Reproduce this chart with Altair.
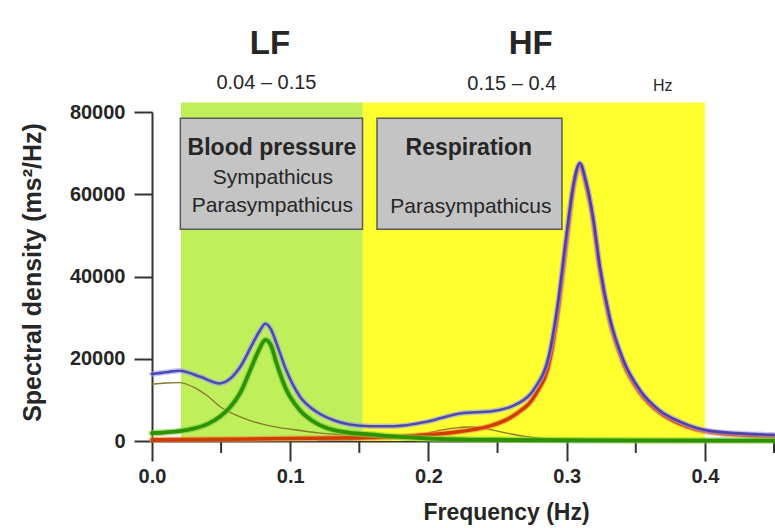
import altair as alt
import pandas as pd

# ---- frequency bands (Hz) ----
band_start = [0.021, 0.1525]
band_end = [0.1525, 0.4]
band_color = ["#c0ef5c", "#ffff30"]
band_top = 82300

# ---- spectral components (ms²/Hz) ----
vlf_f = [0.0, 0.01, 0.02, 0.03, 0.04, 0.05, 0.06, 0.07, 0.08, 0.09, 0.10, 0.12, 0.14, 0.16, 0.18, 0.20, 0.25, 0.30, 0.45]
vlf_v = [13800, 14100, 14200, 13100, 11000, 8200, 6400, 5100, 4100, 3400, 2900, 2000, 1500, 1200, 900, 700, 400, 200, 100]

lf_f = [0.0, 0.01, 0.02, 0.03, 0.04, 0.049, 0.056, 0.064, 0.073, 0.078, 0.082, 0.086, 0.09, 0.097, 0.107,
        0.119, 0.131, 0.143, 0.158, 0.175, 0.20, 0.25, 0.30, 0.35, 0.45]
lf_v = [1900, 2100, 2400, 3000, 4100, 5900, 8000, 11800, 18800, 22600, 24600, 23300, 19000, 12600, 7500,
        4300, 2700, 2000, 1600, 1100, 600, 300, 200, 150, 100]

hf2_f = [0.12, 0.15, 0.17, 0.19, 0.20, 0.21, 0.22, 0.23, 0.24, 0.25, 0.26, 0.27, 0.28, 0.30, 0.33, 0.38]
hf2_v = [200, 400, 800, 1500, 2000, 2700, 3200, 3400, 3100, 2400, 1700, 1100, 700, 350, 150, 50]

hf_f = [0.0, 0.05, 0.10, 0.15, 0.175, 0.199, 0.223, 0.247, 0.264, 0.278, 0.288, 0.294, 0.300, 0.305, 0.3095,
        0.314, 0.319, 0.324, 0.331, 0.341, 0.353, 0.367, 0.382, 0.405, 0.45]
hf_v = [300, 400, 600, 800, 1000, 1500, 2300, 3900, 6700, 11600, 20000, 32500, 49000, 62000, 67000,
        62500, 54000, 41800, 29500, 19000, 11800, 7000, 4200, 2100, 1100]

total_f = [0.0, 0.01, 0.02, 0.035, 0.049, 0.056, 0.064, 0.073, 0.078, 0.082, 0.086, 0.09, 0.097, 0.107,
           0.119, 0.131, 0.143, 0.158, 0.175, 0.199, 0.223, 0.247, 0.264, 0.276, 0.288, 0.294, 0.300,
           0.305, 0.3095, 0.314, 0.319, 0.324, 0.331, 0.341, 0.353, 0.367, 0.382, 0.405, 0.45]
total_v = [16300, 16700, 17100, 15600, 14000, 15000, 18100, 23800, 26800, 28500, 27200, 23800, 17300, 10800,
           7100, 5100, 4000, 3600, 3600, 4700, 6700, 7300, 9000, 12400, 22100, 34300, 50500,
           62500, 67600, 63000, 54500, 42400, 30200, 19700, 12400, 7500, 4700, 2400, 1500]

# ---- axis ticks ----
x_major = [0.0, 0.1, 0.2, 0.3, 0.4]
x_minor = [0.05, 0.15, 0.25, 0.35, 0.45]
y_major = [0, 20000, 40000, 60000, 80000]

W, H = 622, 329
FONT = "Liberation Sans"
INK = "#262626"

xscale = alt.Scale(domain=[0, 0.45], nice=False, zero=False)
yscale = alt.Scale(domain=[0, 80000], nice=False)

xaxis = alt.Axis(values=x_major, format=".1f", grid=False, tickSize=20, tickWidth=2, tickColor="#333",
                 domainColor="#333", domainWidth=2, labelFont=FONT, labelFontSize=20,
                 labelFontWeight="bold", labelColor=INK, labelPadding=5, labelFlush=False,
                 titleFont=FONT, titleFontSize=23, titleFontWeight="bold", titleColor=INK,
                 titleX=354, titleY=71, titleBaseline="middle", titleAlign="center")
yaxis = alt.Axis(values=y_major, format="d", grid=False, tickSize=18, tickWidth=2, tickColor="#333",
                 domainColor="#333", domainWidth=2, labelFont=FONT, labelFontSize=20,
                 labelFontWeight="bold", labelColor=INK, labelPadding=9,
                 titleFont=FONT, titleFontSize=25, titleFontWeight="bold", titleColor=INK,
                 titleAngle=-90, titleX=-120, titleY=160, titleBaseline="middle", titleAlign="center")

XT = "Frequency (Hz)"
YT = "Spectral density (ms²/Hz)"


def xenc(field):
    return alt.X(f"{field}:Q", scale=xscale, axis=xaxis, title=XT)


def yenc(field):
    return alt.Y(f"{field}:Q", scale=yscale, axis=yaxis, title=YT)


# coloured frequency bands
bands_df = pd.DataFrame({"a": band_start, "b": band_end, "c": band_color,
                         "lo": [0, 0], "hi": [band_top, band_top]})
bands = alt.Chart(bands_df).mark_rect().encode(
    x=xenc("a"), x2="b", y=yenc("lo"), y2="hi",
    color=alt.Color("c:N", scale=None))

# grey label boxes
boxes_df = pd.DataFrame({"a": [0.0205, 0.1628], "b": [0.1523, 0.2966],
                         "lo": [51500, 51500], "hi": [78500, 78500]})
boxes = alt.Chart(boxes_df).mark_rect(fill="#c4c4c4", stroke="#5a5a5a", strokeWidth=1.5).encode(
    x=xenc("a"), x2="b", y=yenc("lo"), y2="hi")


def texts(df, size, weight):
    return alt.Chart(df).mark_text(font=FONT, fontSize=size, fontWeight=weight, color=INK,
                                   align="center", baseline="middle").encode(
        x=xenc("f"), y=yenc("v"), text="t:N")


big_df = pd.DataFrame({"t": ["LF", "HF"], "f": [0.0853, 0.2740], "v": [96600, 96600]})
range_df = pd.DataFrame({"t": ["0.04 – 0.15", "0.15 – 0.4"], "f": [0.0828, 0.2603], "v": [87000, 86700]})
hz_df = pd.DataFrame({"t": ["Hz"], "f": [0.3695], "v": [86300]})
head_df = pd.DataFrame({"t": ["Blood pressure", "Respiration"], "f": [0.0868, 0.2292], "v": [71300, 71300]})
sub_df = pd.DataFrame({"t": ["Sympathicus", "Parasympathicus", "Parasympathicus"],
                       "f": [0.0875, 0.0871, 0.2307], "v": [64000, 57200, 57000]})

# minor ticks on the frequency axis, hanging just below zero
minor_df = pd.DataFrame({"f": x_minor, "lo": [0] * len(x_minor), "hi": [-2900] * len(x_minor)})
minor = alt.Chart(minor_df).mark_rule(color="#333", strokeWidth=2).encode(
    x=xenc("f"), y=yenc("lo"), y2="hi")


def curve(fs, vs, color, width, opacity=1.0):
    df = pd.DataFrame({"f": fs, "v": vs})
    return alt.Chart(df).mark_line(color=color, strokeWidth=width, opacity=opacity,
                                   interpolate="monotone", strokeCap="round", strokeJoin="round").encode(
        x=xenc("f"), y=yenc("v"))


layers = [
    bands, boxes,
    texts(big_df, 33, "bold"), texts(range_df, 20, "normal"), texts(hz_df, 16, "normal"),
    texts(head_df, 23, "bold"), texts(sub_df, 21, "normal"),
    minor,
    curve(vlf_f, vlf_v, "#857a2c", 1.3),
    curve(hf2_f, hf2_v, "#857a2c", 1.3),
    curve(hf_f, hf_v, "#f08a40", 6, 0.6),
    curve(hf_f, hf_v, "#d13c00", 3.5),
    curve(lf_f, lf_v, "#7ccf3a", 6.5, 0.6),
    curve(lf_f, lf_v, "#2c9200", 3.8),
    curve(total_f, total_v, "#a4a4ea", 5.5, 0.6),
    curve(total_f, total_v, "#3a34b0", 2.6, 0.85),
]

chart = alt.layer(*layers).properties(
    width=W, height=H,
    autosize=alt.AutoSizeParams(type="none"),
    padding={"left": 152, "top": 112, "right": 1, "bottom": 87},
    background="white",
).configure_view(stroke=None)

chart.save("out.html", embed_options={"renderer": "svg", "actions": False})
